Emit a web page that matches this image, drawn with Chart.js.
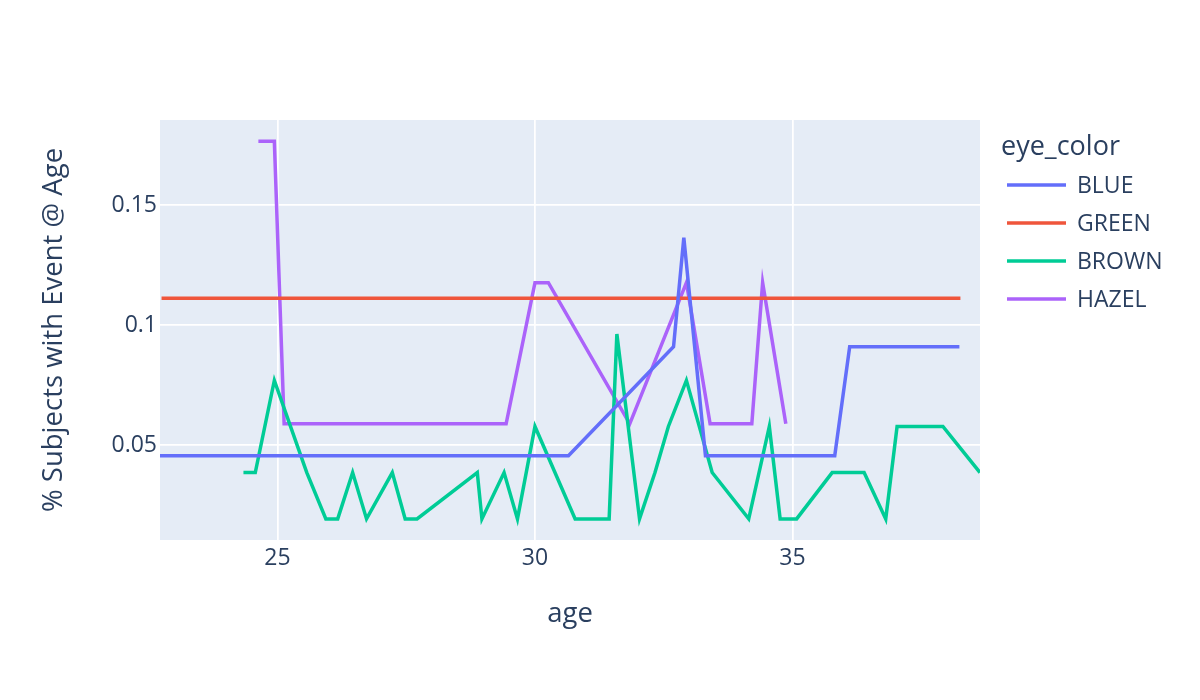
<!DOCTYPE html>
<html>
<head>
<meta charset="utf-8">
<script src="https://cdn.jsdelivr.net/npm/chart.js@4"></script>
<style>
  html, body { margin: 0; padding: 0; background: #fff; }
  #wrap { width: 1200px; height: 700px; }
</style>
</head>
<body>
<div id="wrap"><canvas id="myChart" width="1200" height="700"></canvas></div>
<script>
// values
var ageBlue = [22.72, 30.65, 32.69, 32.89, 33.31, 35.82, 36.11, 38.24];
var pctBlue = [0.0455, 0.0455, 0.0909, 0.1364, 0.0455, 0.0455, 0.0909, 0.0909];

var ageGreen = [22.75, 38.26];
var pctGreen = [0.1111, 0.1111];

var ageBrown = [24.34, 24.57, 24.94, 25.57, 25.94, 26.17, 26.46, 26.73, 27.23, 27.48, 27.71, 28.88,
    28.97, 29.40, 29.66, 30.0, 30.78, 31.44, 31.59, 32.03, 32.33, 32.59, 32.94, 33.44, 34.15, 34.55,
    34.76, 35.08, 35.77, 36.39, 36.81, 37.03, 37.92, 38.64];
var pctBrown = [0.0385, 0.0385, 0.0769, 0.0385, 0.0192, 0.0192, 0.0385, 0.0192, 0.0385, 0.0192, 0.0192, 0.0385,
    0.0192, 0.0385, 0.0192, 0.0577, 0.0192, 0.0192, 0.0962, 0.0192, 0.0385, 0.0577, 0.0769, 0.0385, 0.0192, 0.0577,
    0.0192, 0.0192, 0.0385, 0.0385, 0.0192, 0.0577, 0.0577, 0.0385];

var ageHazel = [24.63, 24.94, 25.13, 29.44, 30.0, 30.26, 31.84, 32.94, 33.40, 34.21, 34.42, 34.87];
var pctHazel = [0.1765, 0.1765, 0.0588, 0.0588, 0.1176, 0.1176, 0.0588, 0.1176, 0.0588, 0.0588, 0.1176, 0.0588];

var seriesNames = ["BLUE", "GREEN", "BROWN", "HAZEL"];
var seriesColors = ["#636efa", "#EF553B", "#00cc96", "#ab63fa"];
var legendTitle = "eye_color";

var xTicks = [25, 30, 35];
var yTicks = [0.05, 0.1, 0.15];

function pts(xs, ys) {
    return xs.map(function (x, i) { return {x: x, y: ys[i]}; });
}

var allSeries = [pts(ageBlue, pctBlue), pts(ageGreen, pctGreen), pts(ageBrown, pctBrown), pts(ageHazel, pctHazel)];

var textColor = "#2a3f5f";
var fontFamily = "'Open Sans', verdana, arial, sans-serif";

// grey plot background
var plotBg = {
    id: 'plotBg',
    beforeDraw: function (chart) {
        var a = chart.chartArea, c = chart.ctx;
        c.save();
        c.fillStyle = "#E5ECF6";
        c.fillRect(a.left, a.top, a.right - a.left, a.bottom - a.top);
        c.restore();
    }
};

// plotly-like legend on the right
var sideLegend = {
    id: 'sideLegend',
    afterDraw: function (chart) {
        var c = chart.ctx;
        c.save();
        c.fillStyle = textColor;
        c.textBaseline = 'middle';
        c.textAlign = 'left';
        c.font = "27px " + fontFamily;
        c.fillText(legendTitle, 1001, 147);
        c.font = "23px " + fontFamily;
        chart.data.datasets.forEach(function (ds, i) {
            var y = 185 + i * 38;
            c.strokeStyle = ds.borderColor;
            c.lineWidth = 3.5;
            c.beginPath();
            c.moveTo(1007, y);
            c.lineTo(1066, y);
            c.stroke();
            c.fillStyle = textColor;
            c.fillText(ds.label, 1077, y + 1);
        });
        c.restore();
    }
};

var ctx = document.getElementById('myChart').getContext('2d');
var myChart = new Chart(ctx, {
    type: 'line',
    data: {
        datasets: allSeries.map(function (d, i) {
            return {
                label: seriesNames[i],
                data: d,
                borderColor: seriesColors[i],
                backgroundColor: seriesColors[i],
                borderWidth: 3.5,
                pointRadius: 0,
                tension: 0,
                fill: false
            };
        })
    },
    options: {
        responsive: false,
        animation: false,
        layout: { padding: { top: 120, right: 220, left: 0, bottom: 0 } },
        plugins: {
            legend: { display: false },
            tooltip: { enabled: false }
        },
        scales: {
            x: {
                type: 'linear',
                min: 22.72,
                max: 38.64,
                afterFit: function (s) { s.height = 160; },
                afterBuildTicks: function (s) { s.ticks = xTicks.map(function (v) { return {value: v}; }); },
                grid: { color: "#ffffff", lineWidth: 1.75, drawTicks: false },
                border: { display: false },
                ticks: {
                    color: textColor,
                    font: { family: fontFamily, size: 23 },
                    padding: 5,
                    maxRotation: 0,
                    callback: function (v) { return String(v); }
                },
                title: {
                    display: true,
                    text: "age",
                    color: textColor,
                    font: { family: fontFamily, size: 27.5 },
                    padding: { top: 69, bottom: 69 }
                }
            },
            y: {
                min: 0.0104,
                max: 0.1854,
                afterFit: function (s) { s.width = 160; },
                afterBuildTicks: function (s) { s.ticks = yTicks.map(function (v) { return {value: v}; }); },
                grid: { color: "#ffffff", lineWidth: 1.75, drawTicks: false },
                border: { display: false },
                ticks: {
                    color: textColor,
                    font: { family: fontFamily, size: 23 },
                    padding: 3,
                    callback: function (v) { return String(v); }
                },
                title: {
                    display: true,
                    text: "% Subjects with Event @ Age",
                    color: textColor,
                    font: { family: fontFamily, size: 27.5 },
                    padding: { top: 38, bottom: 38 }
                }
            }
        }
    },
    plugins: [plotBg, sideLegend]
});
</script>
</body>
</html>
